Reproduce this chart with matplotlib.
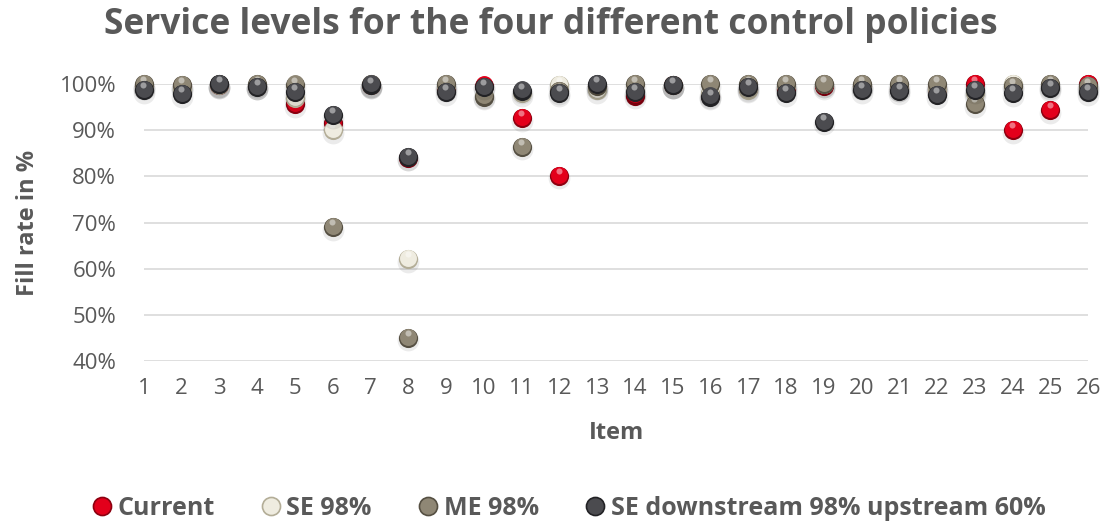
import matplotlib.pyplot as plt
import matplotlib.transforms as mtransforms
from matplotlib.lines import Line2D

items = list(range(1, 27))

# fill rates in %
current = [99.5, 99.5, 99.8, 99.5, 95.6, 91.5, 99.8, 84.0, 99.0, 99.7, 92.6, 80.1, 99.5,
           97.5, 99.8, 97.5, 99.0, 99.0, 99.5, 99.5, 99.0, 99.0, 100.0, 90.0, 94.3, 100.0]
se98 = [99.5, 99.0, 99.8, 99.5, 97.0, 90.0, 99.8, 62.0, 99.5, 97.5, 98.0, 99.8, 98.7,
        98.5, 99.8, 98.0, 98.8, 99.5, 100.0, 99.5, 99.0, 99.0, 98.0, 100.0, 99.5, 99.0]
me98 = [100.0, 99.8, 100.0, 100.0, 99.9, 69.0, 100.0, 45.0, 100.0, 97.3, 86.4, 98.5, 99.5,
        100.0, 99.8, 100.0, 100.0, 100.0, 100.0, 100.0, 100.0, 100.0, 95.6, 99.5, 100.0, 99.5]
se_down = [98.7, 97.8, 100.0, 99.4, 98.2, 93.3, 99.9, 84.2, 98.3, 99.4, 98.6, 98.0, 100.0,
           98.3, 99.8, 97.3, 99.4, 98.0, 91.8, 98.7, 98.5, 97.6, 98.7, 98.0, 99.1, 98.3]

series = [
    ("Current", current, "#e3001b", "#8c0010"),
    ("SE 98%", se98, "#efece0", "#b3ad97"),
    ("ME 98%", me98, "#8f8775", "#554f42"),
    ("SE downstream 98% upstream 60%", se_down, "#4b4b4f", "#222225"),
]

txt = "#595959"
plt.rcParams['font.family'] = ['Open Sans', 'DejaVu Sans']

fig = plt.figure(figsize=(11.07, 5.26), dpi=100)
ax = fig.add_axes([0.130, 0.3137, 0.853, 0.5263])


def shifted(dx, dy):
    return mtransforms.offset_copy(ax.transData, fig=fig, x=dx, y=dy, units='points')


# fake 3d balls: soft shadow, dark rim, body, highlight
s = 190
for i, (name, vals, base, dark) in enumerate(series):
    z = 3 + i
    ax.scatter(items, vals, s=s * 1.3, color="black", alpha=0.08, lw=0,
               transform=shifted(0, -1.8), zorder=z, clip_on=False)
    ax.scatter(items, vals, s=s, color=dark, lw=0, zorder=z, clip_on=False)
    ax.scatter(items, vals, s=s * 0.78, color=base, lw=0,
               transform=shifted(0, 0.9), zorder=z, clip_on=False)
    ax.scatter(items, vals, s=s * 0.1, color="white", alpha=0.45, lw=0,
               transform=shifted(-0.5, 3.6), zorder=z, clip_on=False)

ax.set_xlim(1, 26)
ax.set_ylim(40, 100)
ax.set_xticks(items)
ax.set_yticks(range(40, 101, 10))
ax.set_yticklabels([f"{v}%" for v in range(40, 101, 10)])
ax.tick_params(length=0, labelsize=16, labelcolor=txt)
ax.tick_params(axis='y', pad=20)
ax.tick_params(axis='x', pad=12)
ax.grid(axis='y', color="#d9d9d9", lw=1.2)
ax.set_axisbelow(True)
for sp in ax.spines.values():
    sp.set_visible(False)

ax.set_xlabel("Item", fontsize=17, fontweight='bold', color=txt, labelpad=16)
ax.set_ylabel("Fill rate in %", fontsize=17, fontweight='bold', color=txt, labelpad=14)
fig.text(0.498, 0.952, "Service levels for the four different control policies",
         ha='center', va='center', fontsize=25.5, fontweight='bold', color=txt)

handles = [Line2D([], [], ls='none', marker='o', markersize=13,
                  markerfacecolor=base, markeredgecolor=dark, markeredgewidth=1.2)
           for name, vals, base, dark in series]
fig.legend(handles, [sr[0] for sr in series], loc='center', bbox_to_anchor=(0.5136, 0.034),
           ncol=4, frameon=False, handlelength=0.8, handletextpad=0.22, columnspacing=1.86,
           prop={'size': 18, 'weight': 'bold'}, labelcolor=txt)

fig.savefig("out.png", dpi=100)
